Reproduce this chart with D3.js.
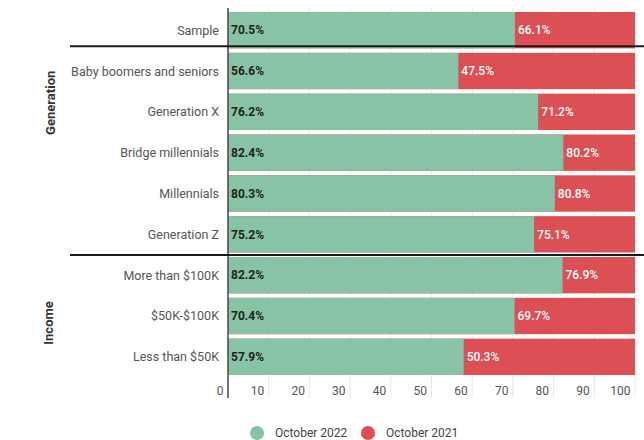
<!DOCTYPE html>
<html>
<head>
<meta charset="utf-8">
<script src="https://cdn.jsdelivr.net/npm/d3@7"></script>
<style>
  html, body { margin: 0; padding: 0; background: #fff; }
  svg { display: block; font-family: Roboto, "Noto Sans", sans-serif; }
</style>
</head>
<body>
<svg id="chart" width="644" height="440"></svg>
<script>
// Share of respondents, by group
const categories = [
  "Sample",
  "Baby boomers and seniors",
  "Generation X",
  "Bridge millennials",
  "Millennials",
  "Generation Z",
  "More than $100K",
  "$50K-$100K",
  "Less than $50K"
];
const oct2022 = [70.5, 56.6, 76.2, 82.4, 80.3, 75.2, 82.2, 70.4, 57.9];
const oct2021 = [66.1, 47.5, 71.2, 80.2, 80.8, 75.1, 76.9, 69.7, 50.3];
const tickValues = [0, 10, 20, 30, 40, 50, 60, 70, 80, 90, 100];
const groups = [
  { name: "Generation", first: "Baby boomers and seniors", last: "Generation Z" },
  { name: "Income", first: "More than $100K", last: "Less than $50K" }
];
const seriesNames = ["October 2022", "October 2021"];

const GREEN = "#88c3a5";
const RED = "#dc4f55";

const svg = d3.select("#chart");

const x = d3.scaleLinear().domain([0, 100]).range([228, 635]);
const y = d3.scaleBand().domain(categories).range([12, 375]).paddingInner(0.11).paddingOuter(0);
const bw = y.bandwidth();

const axisTop = 8, axisBottom = 398;

// vertical gridlines
svg.append("g")
  .selectAll("line")
  .data(tickValues.filter(d => d > 0))
  .join("line")
  .attr("x1", d => x(d)).attr("x2", d => x(d))
  .attr("y1", axisTop).attr("y2", axisBottom)
  .attr("stroke", "#e9e9e9").attr("stroke-width", 1);

const rows = categories.map((c, i) => ({ cat: c, v22: oct2022[i], v21: oct2021[i] }));

// red track spanning the full scale, green bar on top
svg.append("g").selectAll("rect")
  .data(rows).join("rect")
  .attr("x", x(0)).attr("width", x(100) - x(0))
  .attr("y", d => y(d.cat)).attr("height", bw)
  .attr("fill", RED);

svg.append("g").selectAll("rect")
  .data(rows).join("rect")
  .attr("x", x(0)).attr("width", d => x(d.v22) - x(0))
  .attr("y", d => y(d.cat)).attr("height", bw)
  .attr("fill", GREEN);

// value labels
svg.append("g").selectAll("text")
  .data(rows).join("text")
  .attr("x", x(0) + 3)
  .attr("y", d => y(d.cat) + bw / 2)
  .attr("dy", "0.36em")
  .attr("font-size", 12).attr("font-weight", 700)
  .attr("fill", "#222")
  .text(d => d.v22.toFixed(1) + "%");

svg.append("g").selectAll("text")
  .data(rows).join("text")
  .attr("x", d => x(d.v22) + 3)
  .attr("y", d => y(d.cat) + bw / 2)
  .attr("dy", "0.36em")
  .attr("font-size", 12).attr("font-weight", 500)
  .attr("fill", "#fff")
  .text(d => d.v21.toFixed(1) + "%");

// category labels
svg.append("g").selectAll("text")
  .data(categories).join("text")
  .attr("x", x(0) - 9)
  .attr("y", d => y(d) + bw / 2)
  .attr("dy", "0.36em")
  .attr("text-anchor", "end")
  .attr("font-size", 12.5)
  .attr("fill", "#555")
  .text(d => d);

// x axis tick labels, set just left of each gridline
const xAxis = d3.axisBottom(x).tickValues(tickValues).tickSize(0).tickFormat(d3.format("d"));
const gx = svg.append("g").attr("transform", `translate(0,${axisBottom - 15})`).call(xAxis);
gx.select(".domain").remove();
gx.selectAll("text")
  .attr("text-anchor", "end")
  .attr("x", -5)
  .attr("y", 3)
  .attr("font-size", 12)
  .attr("font-family", "Roboto, sans-serif")
  .attr("fill", "#555");

// vertical axis line
svg.append("line")
  .attr("x1", x(0)).attr("x2", x(0))
  .attr("y1", axisTop).attr("y2", axisBottom)
  .attr("stroke", "#444").attr("stroke-width", 1.5);

// group separators
const sepY = [y(groups[0].first) - 6.5, y(groups[1].first) - 2];
svg.append("g").selectAll("line")
  .data(sepY).join("line")
  .attr("x1", 70).attr("x2", 644)
  .attr("y1", d => d).attr("y2", d => d)
  .attr("stroke", "#1a1a1a").attr("stroke-width", 2);

// group titles
const groupPos = [
  { name: groups[0].name, cx: 50, cy: y(groups[0].first) + 50 },
  { name: groups[1].name, cx: 48, cy: y(groups[1].first) + 66 }
];
svg.append("g").selectAll("text")
  .data(groupPos).join("text")
  .attr("transform", d => `translate(${d.cx},${d.cy}) rotate(-90)`)
  .attr("text-anchor", "middle")
  .attr("dy", "0.36em")
  .attr("font-size", 13).attr("font-weight", 700)
  .attr("fill", "#333")
  .text(d => d.name);

// legend
const legend = svg.append("g").attr("transform", "translate(257,433)");
const legendItems = [
  { name: seriesNames[0], color: GREEN, dx: 0 },
  { name: seriesNames[1], color: RED, dx: 111 }
];
const li = legend.selectAll("g").data(legendItems).join("g")
  .attr("transform", d => `translate(${d.dx},0)`);
li.append("circle").attr("r", 7).attr("fill", d => d.color);
li.append("text")
  .attr("x", 18).attr("dy", "0.36em")
  .attr("font-size", 12).attr("fill", "#444")
  .text(d => d.name);
</script>
</body>
</html>
